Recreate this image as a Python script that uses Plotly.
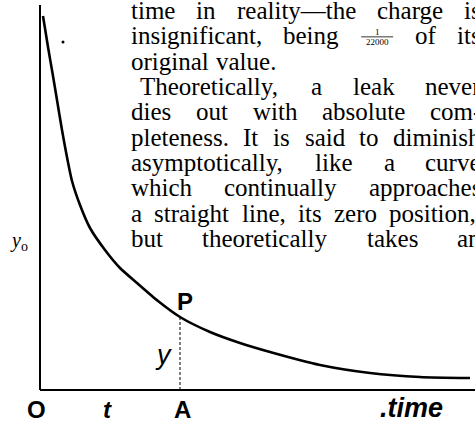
import plotly.graph_objects as go

# Leak curve: charge left against time, in drawing units measured from O
t_vals = [3, 8, 13, 17, 22, 26, 32, 40, 50, 65, 80, 97, 118, 140, 170, 200, 230, 280, 330, 380, 430]
q_vals = [374, 343, 314, 290, 260, 238, 209, 185, 162, 140, 122, 107, 89, 73, 58, 47, 38, 25, 17, 13, 12]
A_INDEX = 13  # the point A on the time axis, with P above it on the curve

# Axis extents
T_MAX = 435
Q_TOP = 385

# Page frame: O sits 40 px from the left and 390 px from the top
OX, OY = 40, 390
W, H = 475, 423

# Body text set beside the figure; each line is justified unless marked ragged
body_lines = [
    ["time", "in", "reality\u2014the", "charge", "is"],
    ["insignificant,", "being", "<frac>", "of", "its"],
    ["original", "value."],
    ["Theoretically,", "a", "leak", "never"],
    ["dies", "out", "with", "absolute", "com-"],
    ["pleteness.", "It", "is", "said", "to", "diminish"],
    ["asymptotically,", "like", "a", "curve"],
    ["which", "continually", "approaches"],
    ["a", "straight", "line,", "its", "zero", "position,"],
    ["but", "theoretically", "takes", "an"],
]
RAGGED = {2}               # last line of a paragraph
INDENT = {3: 9}            # paragraph indent, px
RIGHT_EDGE = {8: 476}      # tightly set line that ends just inside the page

SERIF = "Liberation Serif, Times New Roman, serif"
SANS = "Liberation Sans, Arial, sans-serif"
BODY_SIZE = 25
TEXT_LEFT = 131
TEXT_RIGHT = 481
LINE_TOP = 12.5
LINE_STEP = 25.35
FRAC_WIDTH = 34

# Advance widths (1/1000 em) of the Times-compatible serif face
ADV = {
    " ": 250, "a": 444, "b": 500, "c": 444, "d": 500, "e": 444, "f": 333, "g": 500,
    "h": 500, "i": 278, "k": 500, "l": 278, "m": 778, "n": 500, "o": 500, "p": 500,
    "r": 333, "s": 389, "t": 278, "u": 500, "v": 500, "w": 722, "y": 500, "z": 444,
    "T": 611, "I": 333, ",": 250, ".": 250, "-": 333, "\u2014": 1000,
}


def word_width(word):
    if word == "<frac>":
        return FRAC_WIDTH
    return sum(ADV.get(ch, 500) for ch in word) * BODY_SIZE / 1000.0


def at(px, py):
    """Page pixel position -> drawing units."""
    return px - OX, OY - py


fig = go.Figure()

# Axes drawn as lines
fig.add_trace(go.Scatter(x=[0, 0], y=[Q_TOP, 0], mode="lines",
                         line=dict(color="black", width=2), hoverinfo="skip"))
fig.add_trace(go.Scatter(x=[0, T_MAX], y=[0, 0], mode="lines",
                         line=dict(color="black", width=2), hoverinfo="skip"))

# The decay curve
fig.add_trace(go.Scatter(x=t_vals, y=q_vals, mode="lines",
                         line=dict(color="black", width=2.6, shape="spline", smoothing=0.6),
                         hoverinfo="skip"))

# Ordinate AP
fig.add_trace(go.Scatter(x=[t_vals[A_INDEX], t_vals[A_INDEX]], y=[0, q_vals[A_INDEX]],
                         mode="lines", line=dict(color="black", width=1, dash="3px,2px"),
                         hoverinfo="skip"))

# Stray ink dot near the top of the curve
dx, dy = at(63, 42)
fig.add_trace(go.Scatter(x=[dx], y=[dy], mode="markers",
                         marker=dict(color="black", size=3), hoverinfo="skip"))

annotations = []


def label(text, px, py, size, family, xanchor="center", yanchor="middle"):
    x, y = at(px, py)
    annotations.append(dict(x=x, y=y, xref="x", yref="y", text=text, showarrow=False,
                            xanchor=xanchor, yanchor=yanchor, borderpad=0, borderwidth=0,
                            font=dict(size=size, family=family, color="black")))


for i, words in enumerate(body_lines):
    y_line = LINE_TOP + i * LINE_STEP
    left = TEXT_LEFT + INDENT.get(i, 0)
    right = RIGHT_EDGE.get(i, TEXT_RIGHT)
    widths = [word_width(w) for w in words]
    if i in RAGGED or len(words) == 1:
        gap = 0.3 * BODY_SIZE
    else:
        gap = (right - left - sum(widths)) / (len(words) - 1)
    x = left
    for w, wd in zip(words, widths):
        if w == "<frac>":
            cx = x + wd / 2
            label("1", cx, y_line - 6, 9, SERIF)
            label("22000", cx, y_line + 4, 9, SERIF)
            bx0, by = at(x + 1, y_line - 1)
            bx1, _ = at(x + wd - 1, y_line - 1)
            fig.add_trace(go.Scatter(x=[bx0, bx1], y=[by, by], mode="lines",
                                     line=dict(color="black", width=0.8), hoverinfo="skip"))
        else:
            # box centre sits a little above the x-height centre
            label(w, x, y_line - 2, BODY_SIZE, SERIF, xanchor="left")
        x += wd + gap

# Figure lettering
label("<b>O</b>", 36, 409, 24, SANS)
label("<b><i>t</i></b>", 107, 409, 24, SANS)
label("<b>A</b>", 182, 409, 24, SANS)
label("<b><i>.time</i></b>", 411, 408, 27, SANS)
label("<b>P</b>", 185, 301, 24, SANS)
label("<i>y</i>", 163, 355, 27, SANS)
label("<i>y</i><sub>o</sub>", 19, 241, 20, SERIF)

fig.update_layout(
    width=W, height=H,
    margin=dict(l=0, r=0, t=0, b=0),
    paper_bgcolor="white", plot_bgcolor="white",
    showlegend=False,
    xaxis=dict(range=[-OX, W - OX], visible=False, fixedrange=True),
    yaxis=dict(range=[OY - H, OY], visible=False, fixedrange=True),
    annotations=annotations,
)

fig.write_html("out.html")
